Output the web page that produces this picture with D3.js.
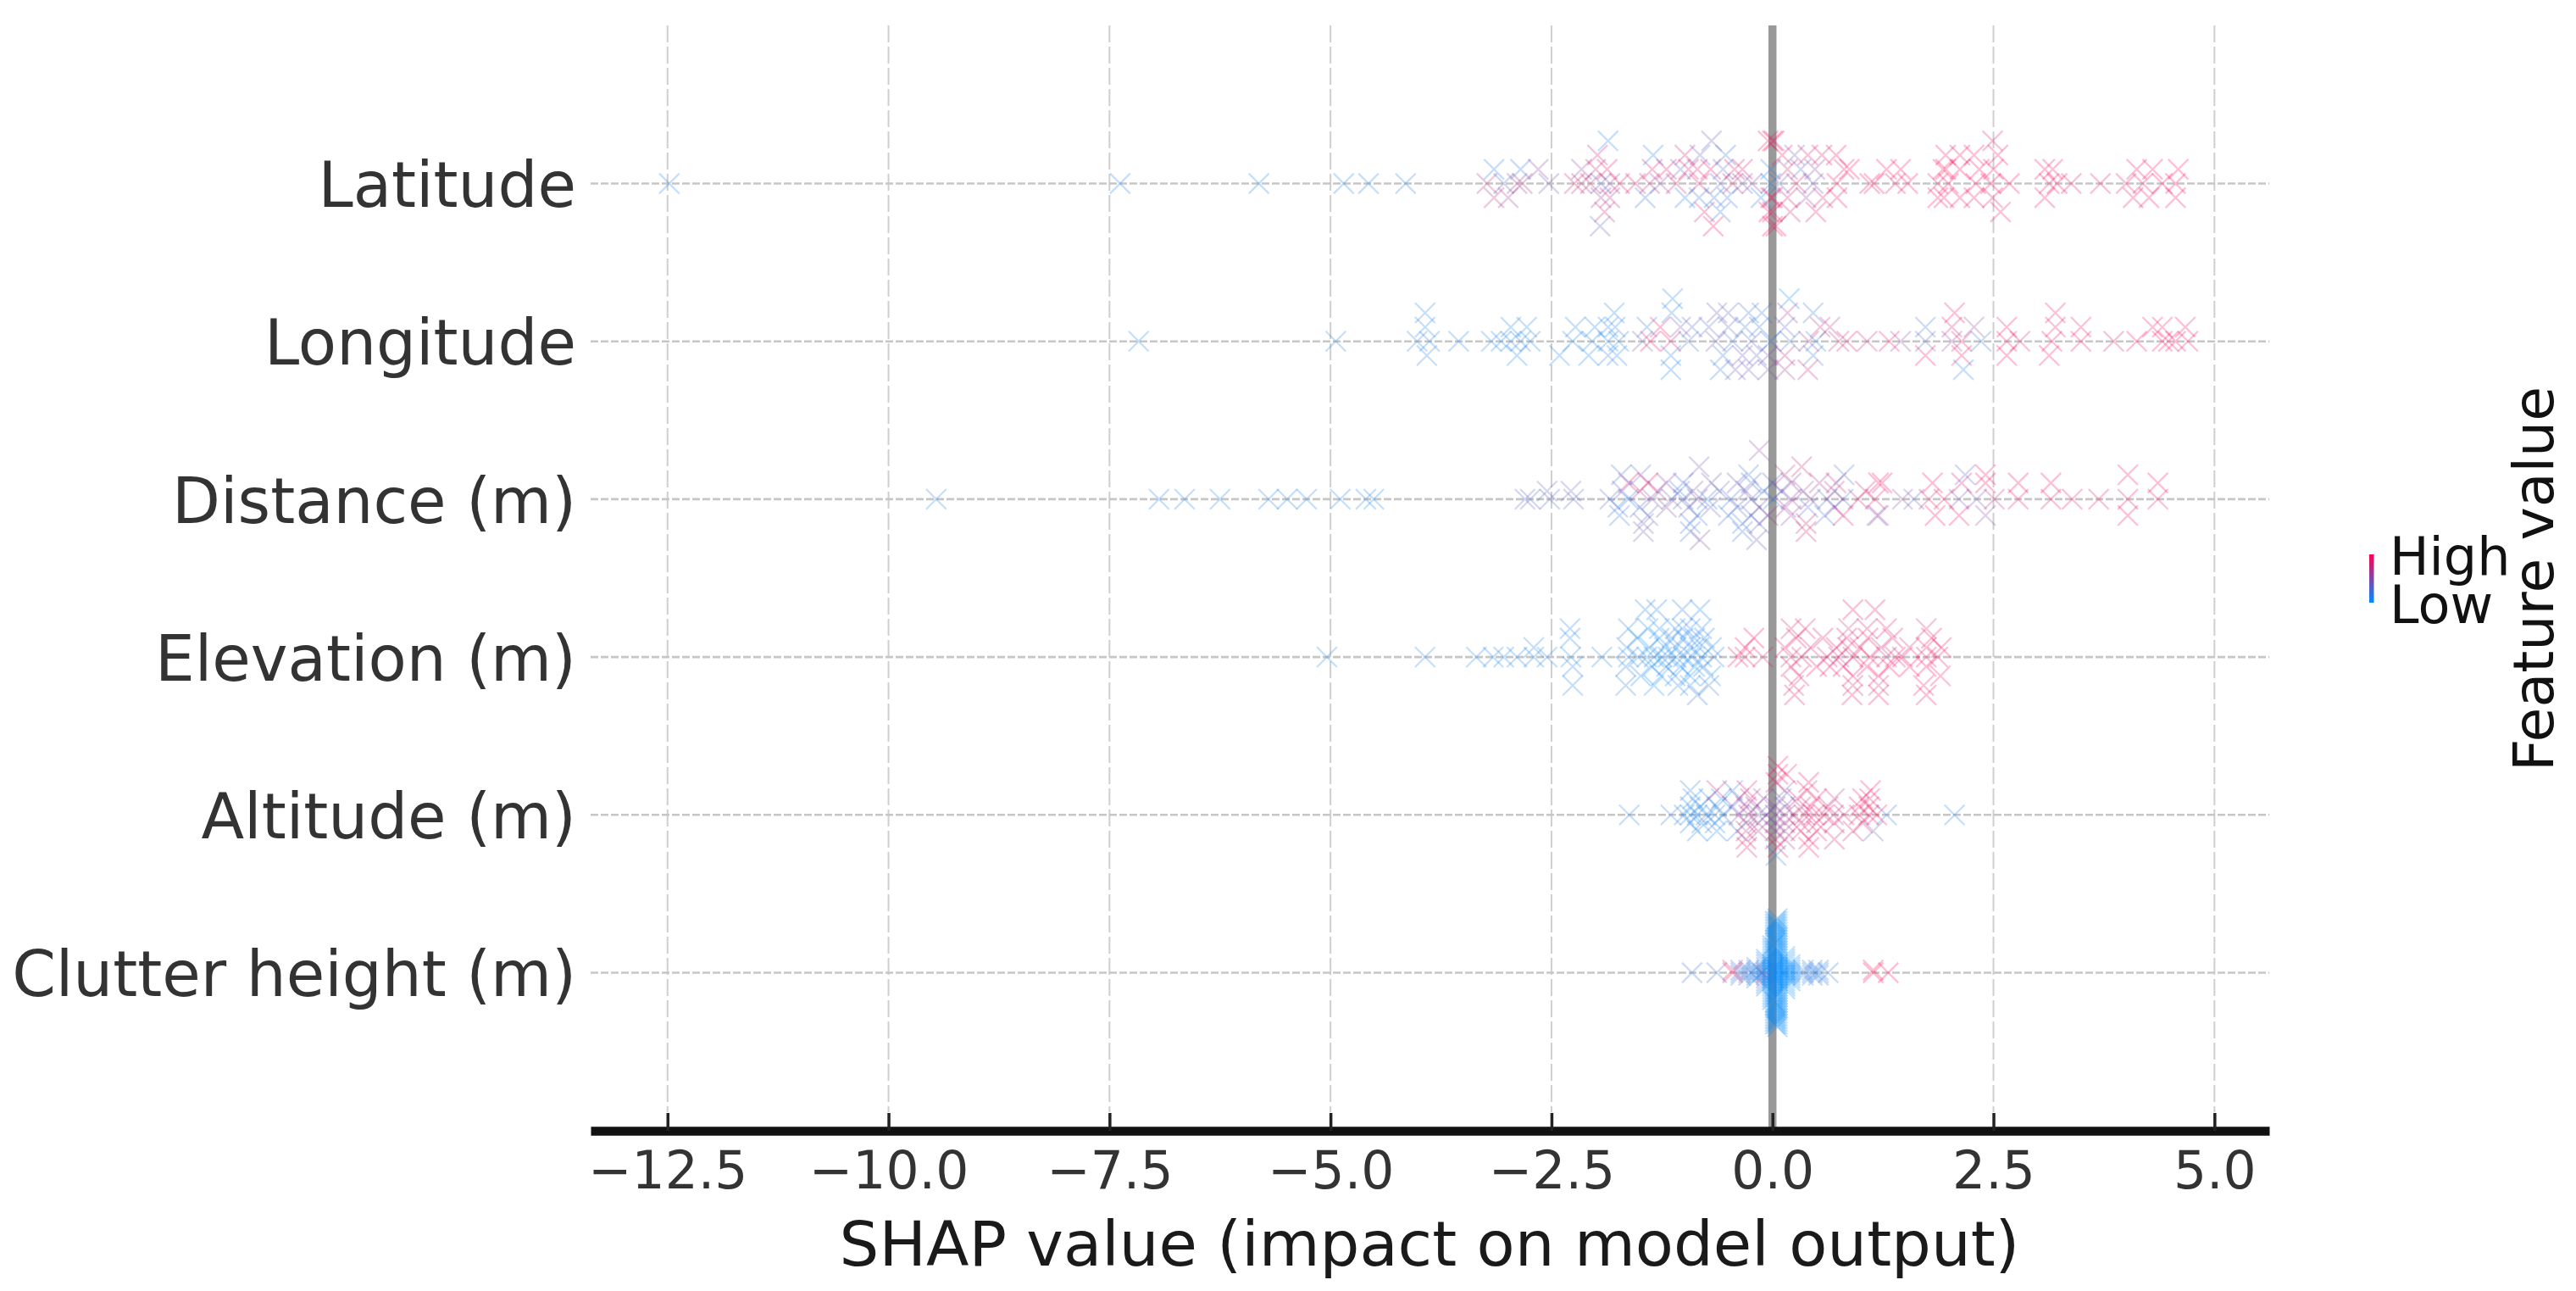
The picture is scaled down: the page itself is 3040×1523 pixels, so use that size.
<!DOCTYPE html>
<html>
<head>
<meta charset="utf-8">
<script src="https://cdn.jsdelivr.net/npm/d3@7/dist/d3.min.js"></script>
<style>
html,body{margin:0;padding:0;background:#fff;}
svg{display:block;filter:blur(0.7px);}
text{font-family:"DejaVu Sans",sans-serif;}
</style>
</head>
<body>
<svg id="chart" width="3040" height="1523"></svg>
<script>
const features = ["Latitude","Longitude","Distance (m)","Elevation (m)","Altitude (m)","Clutter height (m)"];
const xTicks = [-12.5,-10,-7.5,-5,-2.5,0,2.5,5];
const xLimits = [-13.37,5.62];
const xTitle = "SHAP value (impact on model output)";
const legendTitle = "Feature value";
const legendLabels = ["High","Low"];
const colorStops = ["#008bfb","#ff0051"];

// each point: [SHAP value, stack level in its row, feature value 0..1]
const latitudePoints = [
[-12.48,0,.1],[-7.38,0,.1],[-5.81,0,.1],[-4.85,0,.1],[-4.57,0,.1],[-4.15,0,.1],
[-3.23,0,.7],[-3.04,0,.3],[-2.89,0,.6],[-2.83,0,.7],[-2.53,0,.4],[-2.24,0,.8],[-2.16,0,.7],[-2.06,0,.7],[-1.94,0,.3],[-1.84,0,.5],[-1.73,0,.8],[-1.55,0,.8],[-1.39,0,.7],[-1.27,0,.5],[-1.09,0,.8],[-.83,0,.8],[-.59,0,.3],[-.45,0,.8],[-.34,0,.4],[-.23,0,.5],[-.02,0,.1],
[-3.15,1,.1],[-2.85,1,.2],[-2.65,1,.5],[-2.16,1,.5],[-2.0,1,.7],[-1.87,1,.8],[-1.36,1,.8],[-1.2,1,.8],[-1.04,1,.3],[-.95,1,.8],[-.85,1,.8],[-.7,1,.8],[-.56,1,.3],[-.43,1,.8],[-.34,1,.8],[-.02,1,.1],
[-1.98,2,.8],[-1.35,2,.1],[-.99,2,.8],[-.82,2,.3],[-.53,2,.2],
[-1.86,3,.1],[-.69,3,.35],[-.05,3,.9],
[-3.15,-1,.7],[-2.99,-1,.6],[-1.94,-1,.6],[-1.84,-1,.7],[-1.44,-1,.2],[-.99,-1,.15],[-.83,-1,.2],[-.66,-1,.2],[-.51,-1,.2],[-.13,-1,.1],[-.02,-1,.9],
[-1.9,-2,.7],[-.77,-2,.8],[-.59,-2,.15],[-.04,-2,.9],
[-1.95,-3,.3],[-.67,-3,.9],[0,-3,.9],
[.08,0,.3],[.27,0,.8],[.46,0,.4],[.73,0,.9],[1.1,0,.9],[1.15,0,.9],[1.39,0,.9],[1.53,0,.9],[1.87,0,.9],[1.99,0,.9],[2.3,0,.9],[2.47,0,.9],[2.68,0,.9],[3.13,0,.9],[3.22,0,.9],[3.38,0,.9],[3.71,0,.9],[4.0,0,.9],[4.19,0,.9],[4.41,0,.9],[4.56,0,.9],
[.17,1,.8],[.32,1,.3],[.48,1,.5],[.81,1,.8],[.87,1,.9],[1.29,1,.9],[1.45,1,.9],[1.93,1,.95],[1.96,1,.95],[2.12,1,.9],[2.34,1,.9],[2.5,1,.9],[3.08,1,.9],[3.17,1,.9],[4.12,1,.9],[4.3,1,.9],[4.59,1,.9],
[.11,2,.9],[.25,2,.4],[.4,2,.8],[.56,2,.8],[.72,2,.9],[1.96,2,.9],[2.12,2,.9],[2.28,2,.9],[2.55,2,.9],
[0,3,.9],[.02,3,.9],[2.49,3,.8],
[0,-1,.8],[.17,-1,.8],[.38,-1,.5],[.57,-1,.8],[.73,-1,.9],[1.87,-1,.9],[1.94,-1,.9],[2.12,-1,.9],[2.28,-1,.9],[2.49,-1,.9],[3.08,-1,.9],[4.08,-1,.9],[4.26,-1,.9],[4.56,-1,.9],
[0,-2,.9],[.2,-2,.8],[.49,-2,.9],[2.58,-2,.9],
[.04,-3,.9]
];

const longitudePoints = [
[-7.17,0,.1],[-4.94,0,.1],[-4.02,0,.1],[-3.88,0,.1],[-3.55,0,.1],[-3.18,0,.1],[-3.07,0,.1],[-2.96,0,.1],[-2.85,0,.1],[-2.74,0,.1],[-2.26,0,.1],[-2.04,0,.1],[-1.86,0,.1],[-1.74,0,.1],[-1.47,0,.4],[-1.38,0,.9],[-1.15,0,.8],[-.95,0,.2],[-.64,0,.4],[-.45,0,.2],[-.24,0,.3],[-.02,0,.15],[.2,0,.2],[.41,0,.6],[.49,0,.1],[.75,0,.7],[.84,0,.8],[1.07,0,.7],[1.32,0,.85],[1.45,0,.5],
[1.73,0,.3],[2.03,0,.5],[2.14,0,.9],[2.36,0,.2],[2.65,0,.9],[2.8,0,.8],[3.16,0,.9],[3.49,0,.9],[3.86,0,.9],[4.12,0,.9],[4.41,0,.9],[4.48,0,.9],[4.56,0,.9],[4.7,0,.9],
[-3.93,1,.1],[-2.96,1,.1],[-2.78,1,.1],[-2.23,1,.1],[-2.01,1,.1],[-1.86,1,.1],[-1.78,1,.1],[-1.42,1,.2],[-1.27,1,.9],[-1.04,1,.4],[-.91,1,.3],[-.72,1,.3],[-.5,1,.3],[-.31,1,.2],[-.15,1,.2],[.14,1,.3],[.54,1,.7],[.65,1,.7],
[1.73,1,.2],[2.03,1,.8],[2.28,1,.5],[2.65,1,.9],[3.2,1,.9],[3.49,1,.9],[4.3,1,.9],[4.41,1,.9],[4.67,1,.9],
[-3.93,2,.1],[-1.79,2,.1],[-1.14,2,.1],[-.63,2,.4],[-.5,2,.3],[-.27,2,.2],[-.12,2,.2],[.17,2,.6],[.46,2,.2],[2.06,2,.9],[3.2,2,.9],
[-1.13,3,.1],[.19,3,.1],
[-3.91,-1,.1],[-2.89,-1,.1],[-2.41,-1,.1],[-2.08,-1,.1],[-1.86,-1,.1],[-1.76,-1,.1],[-1.15,-1,.1],[-.56,-1,.15],[-.34,-1,.4],[-.18,-1,.3],[-.05,-1,.4],[.14,-1,.7],[.46,-1,.2],
[1.73,-1,.9],[2.14,-1,.9],[2.65,-1,.9],[3.13,-1,.9],
[-1.15,-2,.1],[-.59,-2,.15],[-.42,-2,.4],[-.27,-2,.4],[-.05,-2,.4],[.14,-2,.6],[.4,-2,.7],[2.16,-2,.1]
];

const distancePoints = [
[-9.46,0,.1],[-6.94,0,.1],[-6.65,0,.1],[-6.25,0,.1],[-5.7,0,.1],[-5.49,0,.1],[-5.27,0,.1],[-4.89,0,.1],[-4.6,0,.1],[-4.51,0,.1],
[-2.8,0,.3],[-2.74,0,.3],[-2.52,0,.3],[-2.25,0,.3],[-1.84,0,.3],[-1.63,0,.1],[-1.36,0,.4],[-1.14,0,.4],[-1.01,0,.2],[-.85,0,.4],[-.74,0,.1],[-.47,0,.2],[-.24,0,.3],[.01,0,.1],[.21,0,.5],[.43,0,.5],[.62,0,.2],[.8,0,.2],[.97,0,.8],[1.16,0,.8],[1.47,0,.5],[1.6,0,.3],[1.77,0,.8],[1.94,0,.9],[2.11,0,.4],[2.31,0,.4],[2.51,0,.7],[2.78,0,.9],[3.15,0,.9],[3.39,0,.9],[3.69,0,.9],[4.02,0,.9],[4.36,0,.9],
[-2.55,1,.3],[-2.28,1,.3],[-1.7,1,.3],[-1.5,1,.7],[-1.3,1,.5],[-1.05,1,.2],[-.9,1,.5],[-.6,1,.3],[-.3,1,.4],[-.1,1,.2],[.1,1,.4],[.35,1,.5],[.7,1,.6],[1.05,1,.8],
[-1.63,2,.9],[-1.41,2,.9],[-1.2,2,.5],[-1.01,2,.2],[-.69,2,.4],[-.4,2,.4],[-.24,2,.3],[0,2,.3],[.21,2,.5],[.53,2,.6],[.72,2,.7],[1.24,2,.95],[1.2,2,.9],[1.81,2,.9],[2.14,2,.8],[2.41,2,.9],[2.78,2,.9],[3.15,2,.9],[4.36,2,.9],
[-1.71,3,.2],[-1.49,3,.3],[-.27,3,.2],[.14,3,.7],[.81,3,.2],[2.18,3,.3],[2.41,3,.9],[4.02,3,.9],
[-.83,4,.4],[.33,4,.8],
[-.15,6,.5],
[-1.75,-1,.2],[-1.5,-1,.3],[-1.2,-1,.5],[-.95,-1,.4],[-.7,-1,.3],[-.4,-1,.3],[-.15,-1,.4],[.15,-1,.6],[.4,-1,.3],[.7,-1,.5],
[-1.73,-2,.2],[-1.41,-2,.3],[-.85,-2,.2],[-.5,-2,.2],[-.24,-2,.3],[-.05,-2,.6],[.21,-2,.5],[.59,-2,.2],[.8,-2,.9],[1.18,-2,.3],[1.2,-2,.7],[1.84,-2,.9],[2.11,-2,.9],[2.41,-2,.5],[4.02,-2,.9],
[-1.46,-3,.35],[-.93,-3,.2],[-.34,-3,.2],[-.15,-3,.3],[.38,-3,.8],
[-1.46,-4,.35],[-.93,-4,.2],[-.34,-4,.2],[.38,-4,.8],
[-.82,-5,.5],[-.18,-5,.4]
];

const elevationPoints = [
[-5.04,0,.1],[-3.93,0,.1],[-3.35,0,.1],[-3.16,0,.1],[-3.04,0,.1],[-2.89,0,.1],[-2.7,0,.1],[-2.55,0,.1],[-2.28,0,.1],[-1.93,0,.1],[-1.63,0,.05],[-1.52,0,.1],[-1.42,0,.05],[-1.34,0,.05],[-1.25,0,.1],[-1.18,0,.05],[-1.09,0,.1],[-1.01,0,.05],[-.91,0,.1],[-.8,0,.1],[-.66,0,.15],
[-2.7,1,.1],[-1.65,1,.1],[-1.39,1,.05],[-1.22,1,.05],[-1.09,1,.1],[-.93,1,.1],[-.83,1,.1],[-.69,1,.1],
[-2.29,2,.1],[-1.53,2,.05],[-1.28,2,.05],[-1.14,2,.1],[-1.01,2,.1],[-.88,2,.1],[-.77,2,.1],
[-1.63,3,.1],[-1.41,3,.1],[-1.28,3,.1],[-1.1,3,.1],[-1.02,3,.1],[-.93,3,.1],[-.8,3,.15],[-2.29,3,.1],
[-1.44,5,.1],[-1.31,5,.1],[-1.02,5,.1],[-.82,5,.1],
[-2.26,-1,.1],[-1.66,-1,.1],[-1.36,-1,.05],[-1.2,-1,.05],[-1.04,-1,.1],[-.88,-1,.05],[-.78,-1,.1],
[-1.49,-2,.1],[-1.26,-2,.1],[-1.1,-2,.1],[-.93,-2,.05],[-.7,-2,.1],
[-2.26,-3,.1],[-1.66,-3,.1],[-1.34,-3,.05],[-1.07,-3,.1],[-.93,-3,.05],[-.72,-3,.15],
[-.85,-4,.2],
[-.39,0,.95],[-.31,0,.9],[-.11,0,.8],[.21,0,.8],[.33,0,.8],[.62,0,.8],[.75,0,.7],[.91,0,.8],[1.1,0,.9],[1.29,0,.7],[1.39,0,.9],[1.47,0,.8],[1.74,0,.9],[1.87,0,.9],
[-.31,1,.95],[.14,1,.85],[.43,1,.8],[.72,1,.8],[.85,1,.85],[.99,1,.8],[1.23,1,.7],[1.55,1,.8],[1.74,1,.85],[1.91,1,.9],
[-.21,2,.95],[.27,2,.8],[.57,2,.8],[.84,2,.85],[1.08,2,.9],[1.36,2,.8],[1.8,2,.9],
[.21,3,.8],[.37,3,.8],[.86,3,.7],[1.07,3,.85],[1.29,3,.8],[1.74,3,.8],
[.91,5,.8],[1.16,5,.8],
[.21,-1,.8],[.5,-1,.85],[.65,-1,.85],[.8,-1,.85],[1.07,-1,.9],[1.32,-1,.9],[1.55,-1,.9],[1.74,-1,.9],
[.3,-2,.8],[.91,-2,.85],[1.2,-2,.9],[1.9,-2,.9],
[.24,-3,.85],[.91,-3,.8],[1.2,-3,.7],[1.71,-3,.9],
[.25,-4,.9],[.9,-4,.9],[1.2,-4,.9],[1.74,-4,.9]
];

const altitudePoints = [
[-1.62,0,.15],[-1.15,0,.15],[2.06,0,.15],
[-1.0,0,.1],[-.93,0,.1],[-.85,0,.1],[-.75,0,.1],[-.65,0,.1],[-.56,0,.1],[-.38,0,.5],[-.27,0,.6],[-.16,0,.4],[-.07,0,.3],[.03,0,.5],[.14,0,.6],[.25,0,.7],[.36,0,.8],[.47,0,.85],[.58,0,.85],[.69,0,.8],[.81,0,.75],[.98,0,.8],[1.09,0,.9],[1.18,0,.9],[1.29,0,.2],
[-.93,1,.1],[-.82,1,.1],[-.63,1,.15],[-.45,1,.3],[-.3,1,.6],[-.19,1,.5],[.03,1,.5],[.14,1,.4],[.32,1,.7],[.43,1,.8],[.63,1,.8],[.98,1,.9],[1.09,1,.9],
[-.9,2,.1],[-.72,2,.1],[-.58,2,.1],[-.38,2,.4],[-.25,2,.7],[-.1,2,.5],[.1,2,.4],[.28,2,.8],[.5,2,.85],[.7,2,.7],[1.02,2,.9],[1.1,2,.9],
[-.93,3,.1],[-.63,3,.8],[-.45,3,.1],[-.29,3,.85],[.14,3,.3],[.39,3,.9],[1.11,3,.9],
[.41,4,.9],[.04,4,.9],
[.06,5,.9],[.06,6,.9],[.16,5,.9],
[-.93,-1,.1],[-.8,-1,.1],[-.65,-1,.1],[-.3,-1,.7],[-.16,-1,.6],[.03,-1,.5],[.14,-1,.6],[.32,-1,.8],[.5,-1,.8],[.7,-1,.8],[1.02,-1,.85],
[-.85,-2,.1],[-.63,-2,.1],[-.4,-2,.2],[-.3,-2,.7],[-.16,-2,.6],[.03,-2,.5],[.14,-2,.6],[.32,-2,.8],[.5,-2,.8],[.91,-2,.85],[1.14,-2,.3],
[-.3,-3,.85],[.03,-3,.8],[.41,-3,.9],[.14,-3,.6],[.7,-3,.8],
[-.29,-4,.9],[.06,-4,.9],[.41,-4,.9],
[.04,-5,.15]
];

const clutterPoints = [
[-.91,0,.2],[-.63,0,.2],[-.45,0,.9],[-.36,0,.2],[-.27,0,.2],[-.18,0,.1],[-.12,0,.1],[.35,0,.15],[.45,0,.15],[.52,0,.15],[.63,0,.15],[1.14,0,.95],[1.14,1,.95],[1.31,0,.9],
[-.45,1,.9],[-.36,1,.2],[-.27,1,.2],[.35,1,.15],[.45,1,.15],[.52,1,.15],
[-.36,-1,.2],[-.27,-1,.2],[.35,-1,.15],[.45,-1,.15],[.52,-1,.15],
[-.18,1,.1],[-.18,-1,.1],[-.18,2,.1],[-.18,-2,.1],
[-.07,0,.6],[-.07,1,.1],[-.07,-1,.1],[-.07,2,.1],[-.07,-2,.6],[-.07,3,.1],[-.07,-3,.1],[-.07,4,.1],[-.07,-4,.1],[-.07,5,.1],[-.07,-5,.1],
[.2,0,.02],[.2,1,.02],[.2,-1,.02],[.2,2,.02],[.2,-2,.02],[.2,3,.02],[.2,-3,.02],
[.14,0,.02],[.14,1,.02],[.14,-1,.02],[.14,2,.02],[.14,-2,.02],[.14,3,.02],[.14,-3,.02],[.14,4,.02],[.14,-4,.02],[.14,5,.02],[.14,-5,.02],[.14,6,.02],[.14,-6,.02],
[0,0,.02],[0,1,.02],[0,-1,.02],[0,2,.02],[0,-2,.02],[0,3,.02],[0,-3,.02],[0,4,.02],[0,-4,.02],[0,5,.02],[0,-5,.02],[0,6,.02],[0,-6,.02],[0,7,.02],[0,-7,.02],[0,8,.02],[0,-8,.02],[0,9,.02],[0,-9,.02],[0,10,.02],[0,-10,.02],
[.03,11,.02],[.03,-11,.02],[.03,12,.02],[.03,-12,.02],[.03,13,.02],[.03,-13,.02],[.03,14,.02],[.03,-14,.02],[.03,15,.02],[.03,-15,.02],[.03,16,.02],[.03,-16,.02],[.03,17,.02],[.03,-17,.02],[.03,18,.02],[.03,-18,.02],[.03,19,.02],[.03,-19,.02],
[.055,0,.02],[.055,1,.02],[.055,-1,.02],[.055,2,.02],[.055,-2,.02],[.055,3,.02],[.055,-3,.02],[.055,4,.02],[.055,-4,.02],[.055,5,.02],[.055,-5,.02],[.055,6,.02],[.055,-6,.02],[.055,7,.02],[.055,-7,.02],[.055,8,.02],[.055,-8,.02],[.055,9,.02],[.055,-9,.02],[.055,10,.02],[.055,-10,.02],[.055,11,.02],[.055,-11,.02],[.055,12,.02],[.055,-12,.02],[.055,13,.02],[.055,-13,.02],[.055,14,.02],[.055,-14,.02],[.055,15,.02],[.055,-15,.02],[.055,16,.02],[.055,-16,.02],[.055,17,.02],[.055,-17,.02],[.055,18,.02],[.055,-18,.02],[.055,19,.02],[.055,-19,.02],[.055,20,.02],[.055,-20,.02]
];

const pointsByFeature = [latitudePoints,longitudePoints,distancePoints,elevationPoints,altitudePoints,clutterPoints];

const W = 3040, H = 1523;
const plot = {left:697,right:2678,top:30,axisY:1334,firstRow:216.5,lastRow:1147.5};
const svg = d3.select("#chart");
svg.append("rect").attr("width",W).attr("height",H).attr("fill","#fff");

const x = d3.scaleLinear().domain(xLimits).range([plot.left,plot.right]);
const y = d3.scalePoint().domain(features).range([plot.firstRow,plot.lastRow]);
const color = d3.scaleLinear().domain([0.02,0.92]).range(colorStops).interpolate(d3.interpolateRgb).clamp(true);
const rowHeight = 0.36*y.step();

// grid
svg.append("g").selectAll("line").data(xTicks.filter(d=>d!==0)).join("line")
  .attr("x1",d=>x(d)).attr("x2",d=>x(d)).attr("y1",plot.top).attr("y2",plot.axisY-22)
  .attr("stroke","#cfcfcf").attr("stroke-width",2).attr("stroke-dasharray","20 5");
svg.append("g").selectAll("line").data(features).join("line")
  .attr("x1",plot.left).attr("x2",plot.right).attr("y1",d=>y(d)).attr("y2",d=>y(d))
  .attr("stroke","#c6c6c6").attr("stroke-width",2.6).attr("stroke-dasharray","9 3");

// zero line
svg.append("line").attr("x1",x(0)).attr("x2",x(0)).attr("y1",plot.top).attr("y2",plot.axisY)
  .attr("stroke","#999").attr("stroke-width",9.5);

// points
const xMark = d3.symbol().type(d3.symbolX).size(369)();
features.forEach((f,i)=>{
  const pts = pointsByFeature[i];
  const maxLevel = d3.max(pts,d=>Math.abs(d[1]));
  const gap = rowHeight/(maxLevel+1);
  svg.append("g").selectAll("path").data(pts).join("path")
    .attr("d",xMark)
    .attr("transform",d=>`translate(${x(d[0])},${y(f)-d[1]*gap})`)
    .attr("fill","none")
    .attr("stroke",d=>color(d[2]))
    .attr("stroke-width",2.2)
    .attr("stroke-opacity",0.25);
});

// x axis
const xAxis = d3.axisBottom(x).tickValues(xTicks).tickFormat(d3.format(".1f")).tickSize(0).tickPadding(24);
const gx = svg.append("g").attr("transform",`translate(0,${plot.axisY})`).call(xAxis);
gx.select(".domain").attr("stroke","#111").attr("stroke-width",10.5);
gx.selectAll(".tick line").attr("y1",-21).attr("y2",0).attr("stroke","#222").attr("stroke-width",3.5);
gx.selectAll(".tick text").attr("fill","#333").attr("font-size",61.5).style("font-family",'"DejaVu Sans"');
svg.append("text").attr("x",1687).attr("y",1493).attr("text-anchor","middle")
  .attr("font-size",73.8).attr("fill","#1a1a1a").text(xTitle);

// y axis
const yAxis = d3.axisLeft(y).tickSize(0).tickPadding(0);
const gy = svg.append("g").attr("transform","translate(680,3.5)").call(yAxis);
gy.select(".domain").remove();
gy.selectAll(".tick text").attr("fill","#333").attr("font-size",74).style("font-family",'"DejaVu Sans"');

// legend
const defs = svg.append("defs");
const grad = defs.append("linearGradient").attr("id","legendGradient").attr("x1",0).attr("x2",0).attr("y1",1).attr("y2",0);
colorStops.forEach((c,i)=>grad.append("stop").attr("offset",i).attr("stop-color",c));
svg.append("rect").attr("x",2796).attr("y",654).attr("width",5.5).attr("height",57).attr("fill","url(#legendGradient)");
svg.append("text").attr("x",2820).attr("y",678).attr("font-size",62).attr("fill","#111").text(legendLabels[0]);
svg.append("text").attr("x",2820).attr("y",735).attr("font-size",62).attr("fill","#111").text(legendLabels[1]);
svg.append("text").attr("transform","translate(3013,910) rotate(-90)").attr("font-size",66.5).attr("fill","#111").text(legendTitle);
</script>
</body>
</html>
